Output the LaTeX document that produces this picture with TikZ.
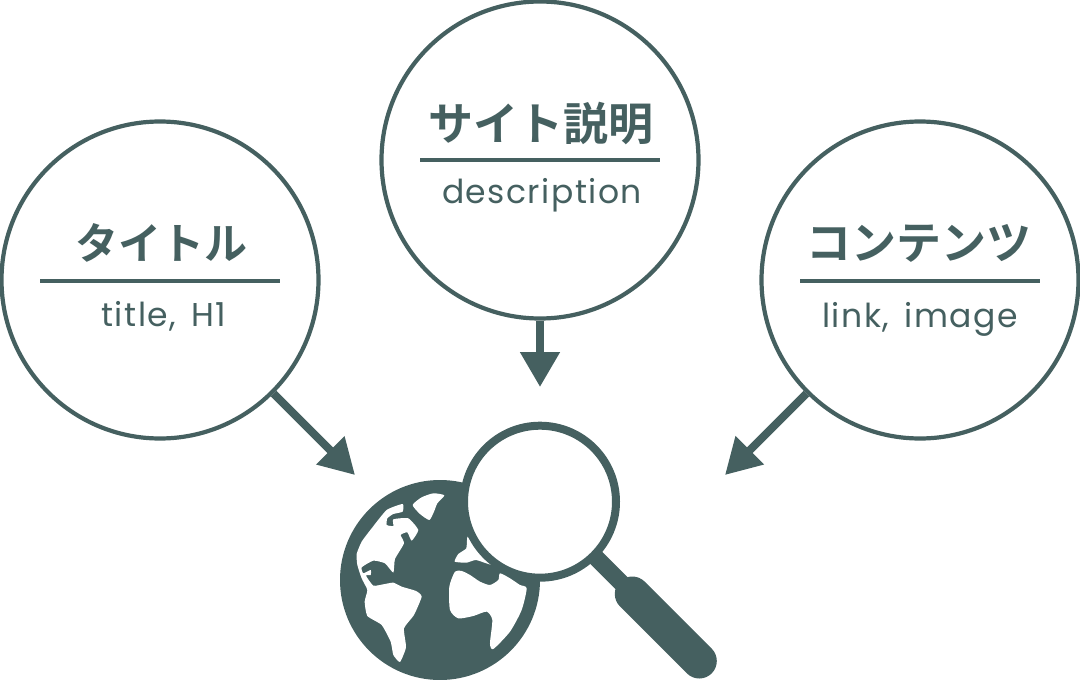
\documentclass[tikz,border=0pt]{standalone}
\usepackage{fontspec}
\usetikzlibrary{arrows.meta}
\newfontfamily\jpfont{Noto Sans CJK JP Bold}[BoldFont={Noto Sans CJK JP Bold}]
\newfontfamily\lat{Poppins}[LetterSpace=4.5,WordSpace=1.5]
\definecolor{ink}{HTML}{456060}
\tikzset{
  bubble/.style={circle,draw=ink,line width=4.2pt,minimum size=317pt,inner sep=0pt,fill=white},
  titletext/.style={text=ink,font=\jpfont\fontsize{45pt}{45pt}\selectfont,inner sep=0pt,anchor=center},
  subtext/.style={text=ink,font=\lat\fontsize{33pt}{33pt}\selectfont,inner sep=0pt,anchor=center},
  rulebar/.style={draw=ink,line width=4pt},
  pointer/.style={draw=ink,line width=8pt,-{Triangle[length=35pt,width=38pt]}},
  land/.style={fill=white,draw=none},
}
\begin{document}
\begin{tikzpicture}[x=1pt,y=-1pt]
\useasboundingbox (0,0) rectangle (1080,680);
% bubbles
\node[bubble] (cl) at (160,280) {};
\node[bubble] (cm) at (540,160) {};
\node[bubble] (cr) at (920,280) {};
% rules
\coordinate (lla) at (40,281); \coordinate (llb) at (280,281);
\coordinate (mla) at (420,160); \coordinate (mlb) at (660,160);
\coordinate (rla) at (800,281); \coordinate (rlb) at (1040,281);
\draw[rulebar] (lla) -- (llb);
\draw[rulebar] (mla) -- (mlb);
\draw[rulebar] (rla) -- (rlb);
% text
\node[titletext,font=\jpfont\fontsize{43pt}{43pt}\selectfont] (t1) at (161,243) {タイトル};
\node[titletext] (t2) at (541,124) {サイト説明};
\node[titletext] (t3) at (919,243) {コンテンツ};
\node[subtext] (s1) at (164,316) {title, H1};
\node[subtext] (s2) at (542,195) {description};
\node[subtext] (s3) at (920,319) {link, image};
% arrows
\coordinate (al) at (355,475);
\coordinate (am) at (540,387);
\coordinate (ar) at (725,475);
\draw[pointer] (cl.-45) -- (al);
\draw[pointer] (cm.south) -- (am);
\draw[pointer] (cr.-135) -- (ar);
% globe
\fill[ink] (440,580) circle (100);
\begin{scope}[shift={(330,410)},x=0.3333pt,y=-0.3333pt]
\fill[land] plot[smooth cycle,tension=0.35] coordinates {(248,285)(275,262)(310,250)(343,256)(322,280)(312,305)(298,330)(270,312)};
\fill[land] plot[smooth cycle,tension=0.3] coordinates {(218,282)(170,300)(125,355)(95,395)(80,432)(82,465)(95,505)(112,540)(104,575)(112,618)(155,645)(182,695)(190,735)(210,756)(228,712)(222,655)(252,615)(275,560)(258,543)(215,530)(190,518)(160,523)(130,527)(108,497)(122,495)(122,480)(100,490)(95,472)(130,452)(165,460)(190,488)(195,447)(222,400)(212,375)(232,367)(245,392)(265,360)(235,325)(190,328)(190,348)(170,345)(172,325)(190,312)(218,305)};
\fill[land] plot[smooth cycle,tension=0.4] coordinates {(375,485)(358,530)(360,600)(385,625)(430,618)(470,605)(487,630)(480,700)(490,717)(540,665)(575,600)(590,535)(570,525)(540,505)(510,490)(505,510)(480,525)(450,515)(420,495)(395,483)};
\fill[land] plot[smooth cycle,tension=0.3] coordinates {(413,380)(409,415)(385,432)(374,455)(410,458)(438,450)(484,464)(445,425)};
\end{scope}
% magnifier
\coordinate (hs) at (540,501.7);
\coordinate (hm) at (632.3,594);
\coordinate (he) at (699.3,661);
\draw[ink,line width=17pt] (hs) -- (hm);
\draw[ink,line width=35pt,line cap=round] (hm) -- (he);
\node[circle,draw=ink,fill=white,line width=8pt,minimum size=152pt,inner sep=0pt] (lens) at (hs) {};
\end{tikzpicture}
\end{document}
